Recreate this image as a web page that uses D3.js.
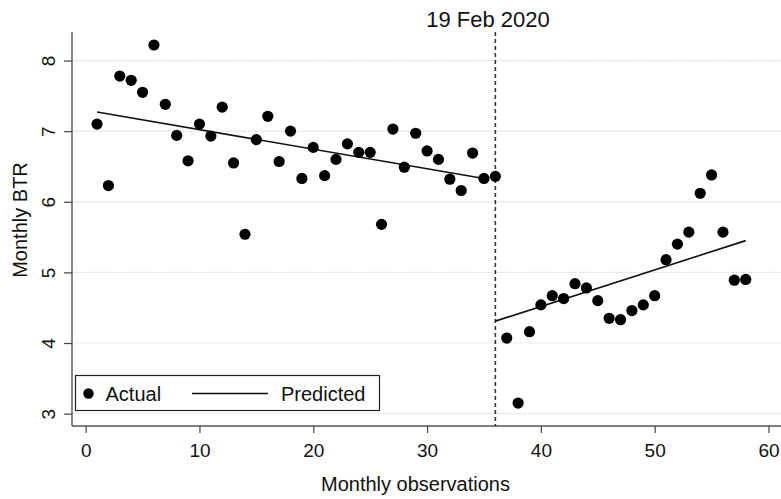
<!DOCTYPE html>
<html>
<head>
<meta charset="utf-8">
<script src="https://cdn.jsdelivr.net/npm/d3@7"></script>
<style>
html,body{margin:0;padding:0;background:#fff;}
svg{display:block;font-family:"Liberation Sans",Arial,sans-serif;}
</style>
</head>
<body>
<svg id="chart" width="781" height="499"></svg>
<script>
// Data
const months = [1,2,3,4,5,6,7,8,9,10,11,12,13,14,15,16,17,18,19,20,21,22,23,24,25,26,27,28,29,30,31,32,33,34,35,36,37,38,39,40,41,42,43,44,45,46,47,48,49,50,51,52,53,54,55,56,57,58];
const actual = [7.10,6.23,7.78,7.72,7.55,8.22,7.38,6.94,6.58,7.10,6.93,7.34,6.55,5.54,6.88,7.21,6.57,7.00,6.33,6.77,6.37,6.60,6.82,6.70,6.70,5.68,7.03,6.49,6.97,6.72,6.60,6.32,6.16,6.69,6.33,6.36,4.07,3.15,4.16,4.54,4.67,4.63,4.84,4.78,4.60,4.35,4.33,4.46,4.54,4.67,5.18,5.40,5.57,6.12,6.38,5.57,4.89,4.90];
const predPreX = [1,35];
const predPreY = [7.27,6.33];
const predPostX = [36,58];
const predPostY = [4.31,5.45];
const xTicks = [0,10,20,30,40,50,60];
const yTicks = [3,4,5,6,7,8];
const breakX = 36;
const breakLabel = "19 Feb 2020";
const xTitle = "Monthly observations";
const yTitle = "Monthly BTR";
const legendLabels = ["Actual","Predicted"];

const svg = d3.select("#chart");
const L = 72, R = 781, T = 32, B = 426;
const x = d3.scaleLinear().domain([-1.2, 61.1]).range([L, R]);
const y = d3.scaleLinear().domain([2.825, 8.404]).range([B, T]);

// gridlines
svg.append("g").selectAll("line").data(yTicks).join("line")
  .attr("x1", L+1).attr("x2", R)
  .attr("y1", d => y(d)).attr("y2", d => y(d))
  .attr("stroke", "#cfe2ea").attr("stroke-width", 1.2)
  .attr("stroke-dasharray", "1.5,1");

// y axis
const yAxis = d3.axisLeft(y).tickValues(yTicks).tickSize(8).tickFormat(d3.format("d"));
const gy = svg.append("g").attr("transform", `translate(${L},0)`).call(yAxis);
gy.select(".domain").attr("stroke", "#444").attr("stroke-width", 1.3).attr("d", `M-0,${T}V${B}`);
gy.selectAll(".tick line").attr("stroke", "#444").attr("stroke-width", 1.2);
gy.selectAll(".tick text")
  .attr("x", null).attr("dy", null)
  .attr("transform", "translate(-17,0) rotate(-90)")
  .attr("text-anchor", "middle")
  .attr("fill", "#111")
  .style("font-size", "19px");

// x axis
const xAxis = d3.axisBottom(x).tickValues(xTicks).tickSize(7).tickFormat(d3.format("d"));
const gx = svg.append("g").attr("transform", `translate(0,${B})`).call(xAxis);
gx.select(".domain").attr("stroke", "#555").attr("stroke-width", 1.3).attr("d", `M${L},0H${R}`);
gx.selectAll(".tick line").attr("stroke", "#444").attr("stroke-width", 1.2);
gx.selectAll(".tick text").attr("y", 31).attr("dy", null).attr("fill", "#111").style("font-size", "19px");

// axis titles
svg.append("text").attr("x", 415.5).attr("y", 491).attr("text-anchor", "middle")
  .style("font-size", "20px").attr("fill", "#111").text(xTitle);
svg.append("text").attr("transform", "translate(27,220) rotate(-90)").attr("text-anchor", "middle")
  .style("font-size", "20px").attr("fill", "#111").text(yTitle);

// break line
svg.append("line").attr("x1", x(breakX)).attr("x2", x(breakX)).attr("y1", T).attr("y2", B)
  .attr("stroke", "#333").attr("stroke-width", 1.6).attr("stroke-dasharray", "4,3");
svg.append("text").attr("x", 488).attr("y", 27).attr("text-anchor", "middle")
  .style("font-size", "22px").attr("fill", "#111").text(breakLabel);

// predicted lines
const line = d3.line().x(d => x(d[0])).y(d => y(d[1]));
[[predPreX, predPreY],[predPostX, predPostY]].forEach(([xs, ys]) => {
  svg.append("path").datum(d3.zip(xs, ys)).attr("d", line)
    .attr("fill", "none").attr("stroke", "#111").attr("stroke-width", 1.6);
});

// points
svg.append("g").selectAll("circle").data(d3.zip(months, actual)).join("circle")
  .attr("cx", d => x(d[0])).attr("cy", d => y(d[1])).attr("r", 5.6).attr("fill", "#000");

// legend
const lg = svg.append("g");
lg.append("rect").attr("x", 75.5).attr("y", 375.5).attr("width", 304).attr("height", 35)
  .attr("fill", "#fff").attr("stroke", "#222").attr("stroke-width", 1.2);
lg.append("circle").attr("cx", 88.5).attr("cy", 393.5).attr("r", 5.2).attr("fill", "#000");
lg.append("text").attr("x", 105.5).attr("y", 400.5).style("font-size", "20px").attr("fill", "#111").text(legendLabels[0]);
lg.append("line").attr("x1", 192).attr("x2", 268).attr("y1", 393.5).attr("y2", 393.5)
  .attr("stroke", "#111").attr("stroke-width", 1.6);
lg.append("text").attr("x", 281).attr("y", 400.5).style("font-size", "20px").attr("fill", "#111").text(legendLabels[1]);
</script>
</body>
</html>
